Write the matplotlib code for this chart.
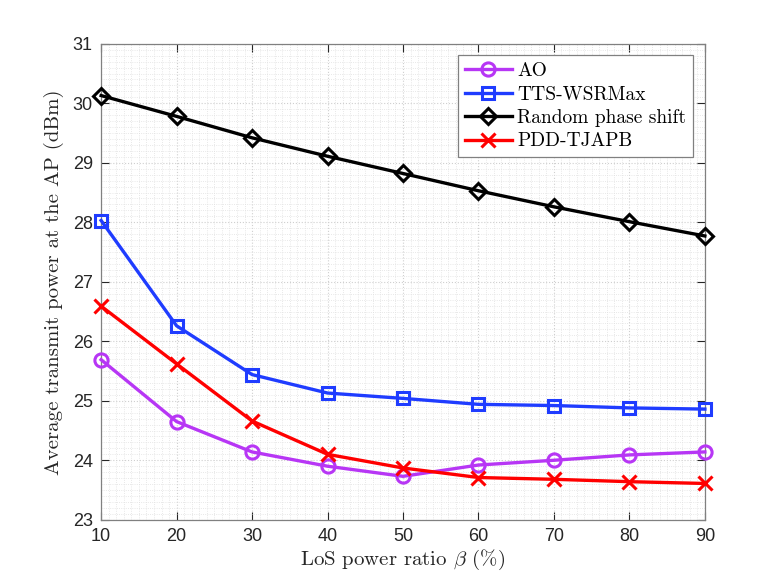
import matplotlib
matplotlib.use("Agg")
import matplotlib.pyplot as plt
from matplotlib.ticker import MultipleLocator

plt.rcParams["mathtext.fontset"] = "cm"
plt.rcParams["axes.unicode_minus"] = False

beta = [10, 20, 30, 40, 50, 60, 70, 80, 90]
ao = [25.69, 24.65, 24.14, 23.90, 23.73, 23.92, 24.00, 24.09, 24.14]
tts = [28.03, 26.26, 25.44, 25.13, 25.04, 24.94, 24.92, 24.88, 24.86]
rand_phase = [30.13, 29.78, 29.42, 29.11, 28.82, 28.53, 28.26, 28.01, 27.77]
pdd = [26.59, 25.62, 24.66, 24.10, 23.87, 23.71, 23.68, 23.64, 23.61]

labels = ["AO", "TTS-WSRMax", "Random phase shift", "PDD-TJAPB"]
colors = ["#B736F5", "#1F3CFF", "#000000", "#FF0000"]
markers = ["o", "s", "D", "x"]
msizes = [9.5, 8, 8, 9.5]

axis_gray = "#262626"
label_font = "cmr10"

fig = plt.figure(figsize=(7.78, 5.84), dpi=100)
ax = fig.add_axes([0.13, 0.11, 0.776, 0.815])

for y, lab, c, m, ms in zip([ao, tts, rand_phase, pdd], labels, colors, markers, msizes):
    ax.plot(beta, y, color=c, marker=m, markersize=ms, markerfacecolor="none",
            markeredgewidth=2.2, linewidth=2.4, label=lab, clip_on=False, zorder=3)

ax.set_xlim(10, 90)
ax.set_ylim(23, 31)
ax.xaxis.set_major_locator(MultipleLocator(10))
ax.yaxis.set_major_locator(MultipleLocator(1))
ax.xaxis.set_minor_locator(MultipleLocator(1))
ax.yaxis.set_minor_locator(MultipleLocator(0.1))

ax.grid(which="major", linestyle=":", color="#cfcfcf", linewidth=0.8)
ax.grid(which="minor", linestyle=":", color="#e0e0e0", linewidth=0.6)
ax.set_axisbelow(True)

ax.tick_params(which="major", direction="in", length=6, width=0.8, colors=axis_gray,
               top=True, right=True, labelsize=13, pad=6)
ax.tick_params(which="minor", length=0, top=True, right=True)
for lbl in ax.get_xticklabels() + ax.get_yticklabels():
    lbl.set_fontfamily("Liberation Sans")
for s in ax.spines.values():
    s.set_color("#808080")
    s.set_linewidth(0.9)

ax.set_xlabel(r"LoS power ratio $\beta$ (%)", fontfamily=label_font, fontsize=15,
              color=axis_gray, labelpad=2)
ax.set_ylabel("Average transmit power at the AP (dBm)", fontfamily=label_font,
              fontsize=15, color=axis_gray, labelpad=6)

leg = ax.legend(loc="upper right", prop={"family": label_font, "size": 14},
                handlelength=2.4, borderaxespad=0.6, fancybox=False, framealpha=1,
                edgecolor="#808080", handletextpad=0.3, borderpad=0.35, labelspacing=0.28)
leg.get_frame().set_linewidth(0.9)
leg.set_zorder(5)

fig.savefig("out.png", dpi=100)
